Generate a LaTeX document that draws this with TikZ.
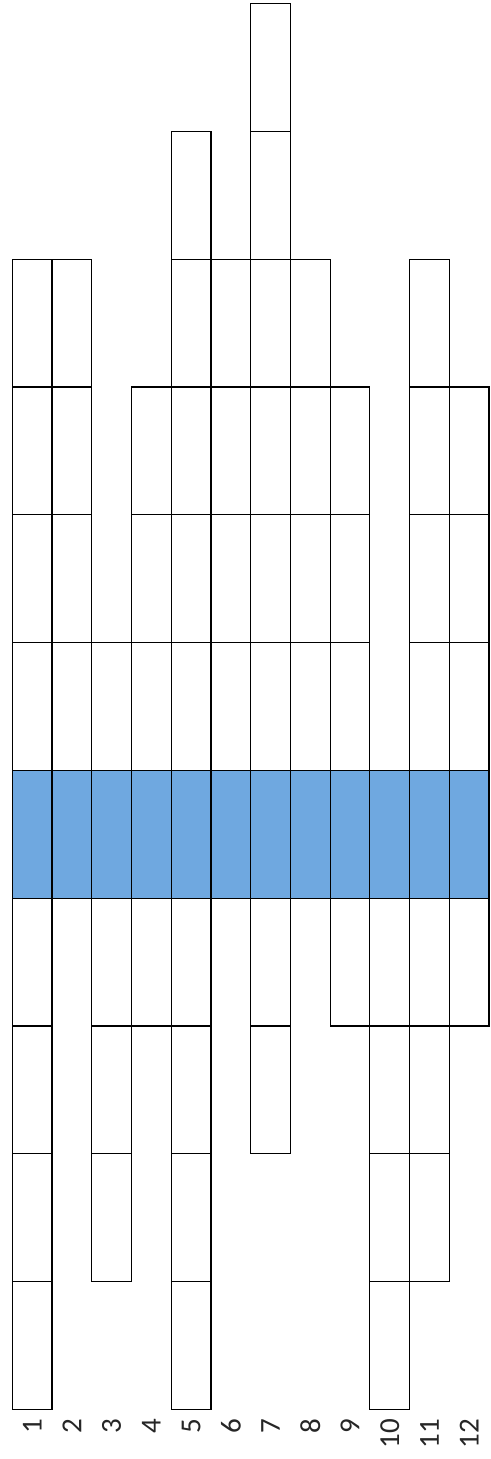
\documentclass[tikz,border=0pt]{standalone}
\usepackage{fontspec}
\setmainfont{Carlito}
\usetikzlibrary{positioning}
\definecolor{rowblue}{HTML}{6FA8E0}

\begin{document}
\begin{tikzpicture}[x=1pt,y=-1pt,line width=1.2pt]
  \useasboundingbox (0,0) rectangle (490,1459);
  % highlighted row
  \fill[rowblue] (12.3,770.3) rectangle (489,898.1);
  % column / first row / last row
  \foreach \c/\a/\b in {1/2/10,2/2/6,3/5/9,4/3/7,5/1/10,6/2/6,7/0/8,8/2/6,9/3/7,10/6/10,11/2/9,12/3/7} {
    \foreach \r in {\a,...,\b}
      \draw ({12.3+(\c-1)*39.73},{3.5+\r*127.8}) rectangle +(39.73,127.8);
    \node[rotate=90,anchor=east,font=\fontsize{29}{33}\selectfont,inner sep=0pt,text=black!85] (lab\c) at ({32.2+(\c-1)*39.73},1418) {\c};
  }
\end{tikzpicture}
\end{document}
